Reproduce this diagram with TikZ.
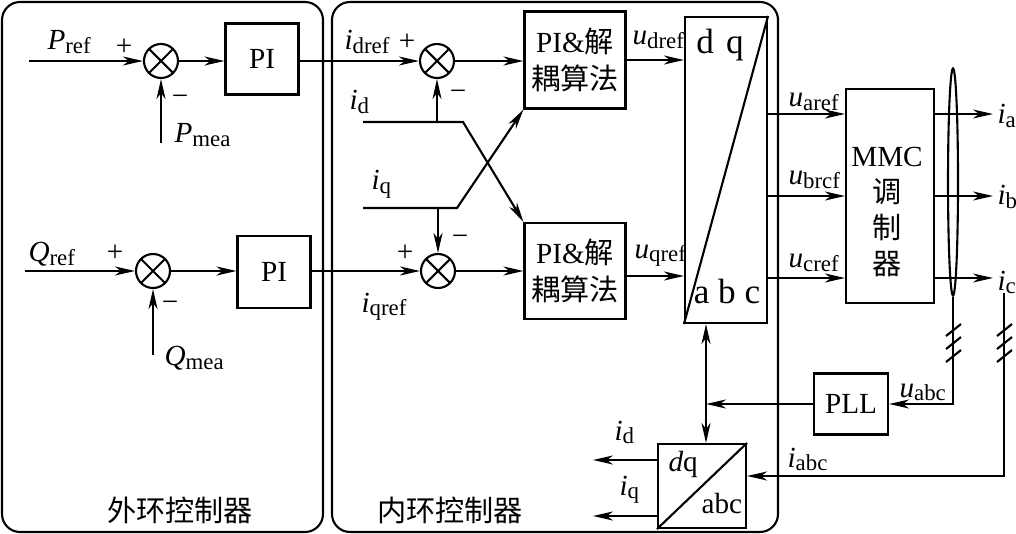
\documentclass[tikz,border=0pt]{standalone}
\usepackage{fontspec}
\setmainfont{Liberation Serif}
\newfontfamily\cjk{Noto Sans CJK SC}
\usetikzlibrary{arrows.meta,shapes.geometric}
\newcommand{\sig}[2]{\textit{#1}\raisebox{-1pt}{\fontsize{6.5}{7}\selectfont #2}}

\begin{document}
\begin{tikzpicture}[
  x=0.1mm, y=-0.1mm, line width=0.6pt,
  every node/.style={font=\fontsize{8.3}{10.5}\selectfont, inner sep=1pt},
  box/.style={rectangle, draw, align=center, inner sep=0pt},
  sum/.style={circle, draw, minimum size=3.4mm, inner sep=0pt,
    path picture={\draw (path picture bounding box.center) +(45:2mm) -- +(225:2mm)
      (path picture bounding box.center) +(135:2mm) -- +(315:2mm);}},
  arrow/.style={-{Stealth[length=2mm, width=0.9mm, inset=0.6mm]}},
  dblarrow/.style={{Stealth[length=2mm, width=0.9mm, inset=0.6mm]}-{Stealth[length=2mm, width=0.9mm, inset=0.6mm]}},
  panel/.style={draw, rounded corners=1.8mm},
  big/.style={font=\fontsize{10}{12}\selectfont}
]
  \useasboundingbox (0,0) rectangle (1016,534);

  % Panels
  \draw[panel] (2,2) rectangle (323,532);
  \draw[panel] (332,2) rectangle (778,532);
  \node (outerlab) at (180,510) {\cjk 外环控制器};
  \node (innerlab) at (450,510) {\cjk 内环控制器};

  % Outer loop
  \node[sum] (sP) at (161,61) {};
  \node[box, minimum width=7.3mm, minimum height=7.1mm] (piP) at (262,59) {PI};
  \node[sum] (sQ) at (153,271) {};
  \node[box, minimum width=7.3mm, minimum height=7.2mm] (piQ) at (274,272) {PI};
  \coordinate (pin) at (29,61);
  \coordinate (pmea) at (161,143);
  \coordinate (qin) at (25,271);
  \coordinate (qmea) at (153,355);
  \node[anchor=base west] (Pref) at (43,50) {\sig{P}{ref}};
  \node[anchor=base west] (Pmea) at (170,143) {\sig{P}{mea}};
  \node[anchor=base west] (Qref) at (24,262) {\sig{Q}{ref}};
  \node[anchor=base west] (Qmea) at (160,366) {\sig{Q}{mea}};
  \node (pP) at (124,47) {+};
  \node (mP) at (180,100) {−};
  \node (pQ) at (115,253) {+};
  \node (mQ) at (170,306) {−};
  \draw[arrow] (pin) -- (sP.west);
  \draw[arrow] (pmea) -- (sP.south);
  \draw[arrow] (sP.east) -- (sP.east -| piP.west);
  \draw[arrow] (qin) -- (sQ.west);
  \draw[arrow] (qmea) -- (sQ.south);
  \draw[arrow] (sQ.east) -- (sQ.east -| piQ.west);

  % Inner loop
  \node[sum] (sd) at (437,61) {};
  \node[sum] (sq) at (438,271) {};
  \node[box, minimum width=10.1mm, minimum height=9.7mm] (decd) at (575,60) {PI\&{\cjk 解}\\{\cjk 耦算法}};
  \node[box, minimum width=10.1mm, minimum height=9.6mm] (decq) at (575,271) {PI\&{\cjk 解}\\{\cjk 耦算法}};
  \node[box, minimum width=8.2mm, minimum height=30.6mm] (park) at (726,170) {};
  \draw (park.south west) -- (park.north east);
  \node[big, anchor=base] (parkdq) at (720,54) {d\hspace{0.35em}q};
  \node[big, anchor=base] (parkabc) at (727,303) {a b c};
  \draw[arrow] (piP.east |- sd) -- (sd.west);
  \draw[arrow] (piQ.east |- sq) -- (sq.west);
  \node[anchor=base west] (idref) at (340,50) {\sig{i}{dref}};
  \node[anchor=base west] (iqref) at (357,312) {\sig{i}{qref}};
  \node[anchor=base west] (idlab) at (345,110) {\sig{i}{d}};
  \node[anchor=base west] (iqlab) at (367,190) {\sig{i}{q}};
  \node (pd) at (407,42) {+};
  \node (md) at (458,95) {−};
  \node (pq) at (405,253) {+};
  \node (mq) at (460,240) {−};
  \node[anchor=base west] (udref) at (628,45) {\sig{u}{dref}};
  \node[anchor=base west] (uqref) at (630,258) {\sig{u}{qref}};
  \coordinate (idin) at (363,122);
  \coordinate (idtap) at (437,122);
  \coordinate (idbend) at (463,122);
  \coordinate (iqin) at (363,208);
  \coordinate (iqtap) at (438,208);
  \coordinate (iqbend) at (457,208);
  \draw[arrow] (idin) -- (idbend) -- (decq.north west);
  \draw[arrow] (idtap) -- (sd.south);
  \draw[arrow] (iqin) -- (iqbend) -- (decd.south west);
  \draw[arrow] (iqtap) -- (sq.north);
  \draw[arrow] (sd.east) -- (sd.east -| decd.west);
  \draw[arrow] (sq.east) -- (sq.east -| decq.west);
  \draw[arrow] (decd.east) -- (decd.east -| park.west);
  \coordinate (uq) at ([yshift=-0.5mm]decq.east);
  \draw[arrow] (uq) -- (uq -| park.west);

  % Modulator
  \node[box, minimum width=8.8mm, minimum height=21.4mm] (mmc) at (890,196) {};
  \node[align=center, font=\fontsize{8.3}{10.2}\selectfont] (mmctxt) at (887,212) {MMC\\{\cjk 调}\\{\cjk 制}\\{\cjk 器}};
  \coordinate (ra) at ([yshift=8.2mm]mmc.west);
  \coordinate (rb) at (mmc.west);
  \coordinate (rc) at ([yshift=-8.2mm]mmc.west);
  \foreach \r in {ra,rb,rc}
    \draw[arrow] (\r -| park.east) -- (\r);
  \node[anchor=base west] (uaref) at (784,107) {\sig{u}{aref}};
  \node[anchor=base west] (ubref) at (784,185) {\sig{u}{brcf}};
  \node[anchor=base west] (ucref) at (784,268) {\sig{u}{cref}};
  \node[anchor=base west] (ia) at (993,124) {\sig{i}{a}};
  \node[anchor=base west] (ib) at (993,205) {\sig{i}{b}};
  \node[anchor=base west] (ic) at (993,290) {\sig{i}{c}};
  \draw[arrow] (ra -| mmc.east) -- (ra -| ia.west);
  \draw[arrow] (rb -| mmc.east) -- (rb -| ib.west);
  \draw[arrow] (rc -| mmc.east) -- (rc -| ic.west);
  \node[draw, ellipse, minimum width=1mm, minimum height=22.7mm, inner sep=0pt] (bus) at (953,182) {};

  % Feedback
  \node[box, minimum width=7.4mm, minimum height=6.1mm] (pll) at (851,404) {PLL};
  \draw[arrow] (bus.south) |- (pll.east);
  \node[anchor=base west] (uabc) at (895,397) {\sig{u}{abc}};
  \node[box, minimum width=8.8mm, minimum height=8.4mm] (park2) at (702,486) {};
  \draw (park2.south west) -- (park2.north east);
  \node[anchor=base west] (p2dq) at (664,471) {\textit{d}q};
  \node[anchor=base west] (p2abc) at (697,513) {abc};
  \coordinate (icup) at (1004,293);
  \coordinate (iin) at ([yshift=1mm]park2.east);
  \draw[arrow] (icup) |- (iin);
  \node[anchor=base west] (iabc) at (783,467) {\sig{i}{abc}};
  \coordinate (jx) at (706,404);
  \draw[arrow] (pll.west) -- (jx);
  \draw[dblarrow] (park.south -| jx) -- (park2.north -| jx);
  \coordinate (od) at (593,460);
  \coordinate (oq) at (593,516);
  \draw[arrow] (park2.west |- od) -- (od);
  \draw[arrow] (park2.west |- oq) -- (oq);
  \node[anchor=base west] (idout) at (610,440) {\sig{i}{d}};
  \node[anchor=base west] (iqout) at (615,495) {\sig{i}{q}};
  \foreach \x in {953,1004}
    \foreach \y in {330,343,356}
      \draw (\x-7,\y+6) -- (\x+8,\y-6);
\end{tikzpicture}
\end{document}
